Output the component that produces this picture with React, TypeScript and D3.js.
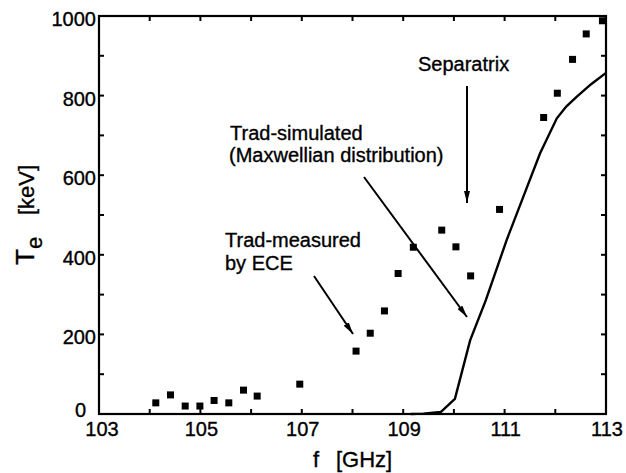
import React from "react";
import * as d3 from "d3";

const measuredF = [104.12, 104.41, 104.7, 104.99, 105.27, 105.56, 105.85, 106.12, 106.96, 108.07, 108.35, 108.63, 108.9, 109.2, 109.76, 110.04, 110.33, 110.9, 111.77, 112.04, 112.34, 112.61, 112.93];
const measuredT = [28, 48, 20, 20, 34, 28, 60, 45, 75, 158, 203, 259, 353, 419, 462, 420, 347, 514, 745, 806, 891, 955, 988];

const simF = [109.15, 109.4, 109.74, 110.02, 110.32, 110.63, 111.04, 111.37, 111.7, 112.03, 112.22, 112.42, 112.7, 113.0];
const simT = [0, 1, 5, 38, 185, 286, 437, 546, 655, 743, 773, 797, 828, 857];

const xTicks = [103, 104, 105, 106, 107, 108, 109, 110, 111, 112, 113];
const xTickLabels = [103, 105, 107, 109, 111, 113];
const yTicks = [0, 100, 200, 300, 400, 500, 600, 700, 800, 900, 1000];
const yTickLabels = [0, 200, 400, 600, 800, 1000];

const FONT = "'Liberation Sans', Arial, Helvetica, sans-serif";

export default function App() {
  const W = 626, H = 473;
  const left = 99, right = 606, top = 16, bottom = 414;
  const x = d3.scaleLinear().domain([103, 113]).range([left, right]);
  const y = d3.scaleLinear().domain([0, 1000]).range([bottom, top]);
  const line = d3.line<number>().x((_, i) => x(simF[i])).y((d) => y(d)).curve(d3.curveLinear);
  const tl = 5;
  const ms = 7;
  const ts = { stroke: "#000", strokeWidth: 0.35 } as const;

  return (
    <svg width={W} height={H} style={{ position: "absolute", left: 0, top: 0, background: "#fff" }} fontFamily={FONT}>
      <defs>
        <marker id="ah" viewBox="0 0 12 6" refX="12" refY="3" markerWidth="12" markerHeight="6" markerUnits="userSpaceOnUse" orient="auto">
          <path d="M0,0 L12,3 L0,6 Z" fill="#000" />
        </marker>
      </defs>
      <rect x={0} y={0} width={W} height={H} fill="#fff" />
      {/* simulated line */}
      <path d={line(simT) || ""} fill="none" stroke="#000" strokeWidth={2.4} />
      {/* measured markers */}
      {measuredF.map((f, i) => (
        <rect key={i} x={x(f) - ms / 2} y={y(measuredT[i]) - ms / 2} width={ms} height={ms} fill="#000" />
      ))}
      {/* frame */}
      <rect x={left} y={top} width={right - left} height={bottom - top} fill="none" stroke="#000" strokeWidth={2.2} />
      {xTicks.map((t) => (
        <g key={"xt" + t}>
          <line x1={x(t)} x2={x(t)} y1={bottom} y2={bottom - tl} stroke="#000" strokeWidth={2} />
          <line x1={x(t)} x2={x(t)} y1={top} y2={top + tl} stroke="#000" strokeWidth={2} />
        </g>
      ))}
      {yTicks.map((t) => (
        <g key={"yt" + t}>
          <line x1={left} x2={left + tl} y1={y(t)} y2={y(t)} stroke="#000" strokeWidth={2} />
          <line x1={right} x2={right - tl} y1={y(t)} y2={y(t)} stroke="#000" strokeWidth={2} />
        </g>
      ))}
      {xTickLabels.map((t) => (
        <text key={"xl" + t} x={x(t) + (t === 103 ? 3 : 1)} y={436} textAnchor="middle" fontSize={20} {...ts}>{t}</text>
      ))}
      {yTickLabels.map((t) => (
        <text key={"yl" + t} x={t === 0 ? 86 : 96} y={t === 0 ? 417 : y(t) + 3} dy={t === 0 ? 0 : "0.35em"} textAnchor="end" fontSize={20} {...ts}>{t}</text>
      ))}
      {/* axis labels */}
      <text x={313} y={467} fontSize={22} {...ts}>f</text>
      <text x={336} y={467} fontSize={22} {...ts}>[GHz]</text>
      <text transform="translate(34,265) rotate(-90)" fontSize={26} {...ts}>
        <tspan x={0}>T</tspan>
        <tspan x={16} dy={8} fontSize={22}>e</tspan>
        <tspan x={50} dy={-8} fontSize={22}>[keV]</tspan>
      </text>
      {/* annotations */}
      <text x={418} y={71} fontSize={20} {...ts}>Separatrix</text>
      <line x1={467} y1={86} x2={467} y2={203} stroke="#000" strokeWidth={2} markerEnd="url(#ah)" />
      <text x={230} y={140} fontSize={20} {...ts}>Trad-simulated</text>
      <text x={229} y={162} fontSize={20} {...ts}>(Maxwellian distribution)</text>
      <line x1={364} y1={177} x2={467} y2={317} stroke="#000" strokeWidth={2} markerEnd="url(#ah)" />
      <text x={225} y={247} fontSize={20} {...ts}>Trad-measured</text>
      <text x={225} y={270} fontSize={20} {...ts}>by ECE</text>
      <line x1={314} y1={276} x2={353} y2={334} stroke="#000" strokeWidth={2} markerEnd="url(#ah)" />
    </svg>
  );
}
